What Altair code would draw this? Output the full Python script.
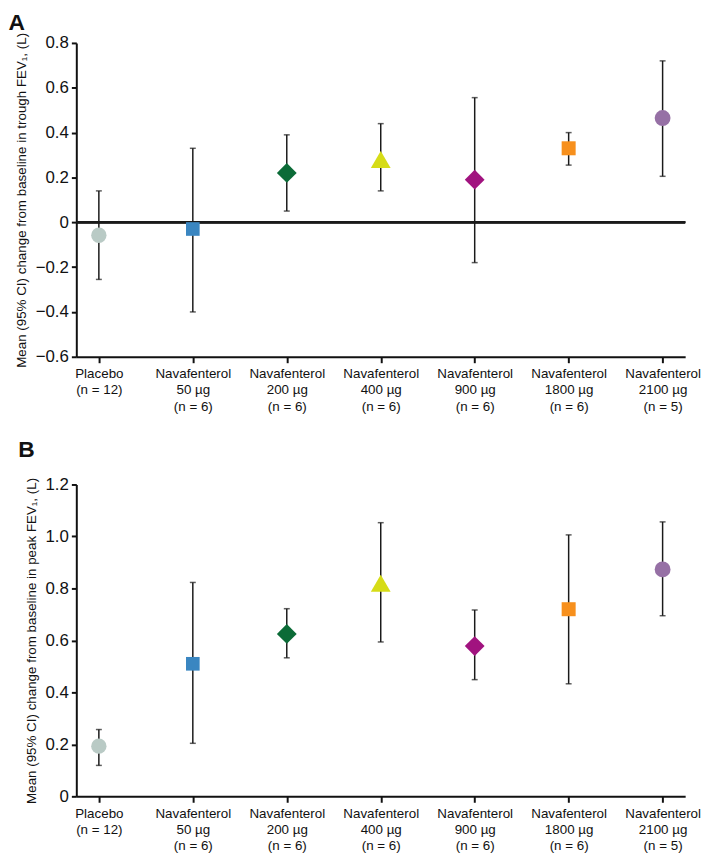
import altair as alt
import pandas as pd

groups = [
    "Placebo|(n = 12)",
    "Navafenterol|50 µg|(n = 6)",
    "Navafenterol|200 µg|(n = 6)",
    "Navafenterol|400 µg|(n = 6)",
    "Navafenterol|900 µg|(n = 6)",
    "Navafenterol|1800 µg|(n = 6)",
    "Navafenterol|2100 µg|(n = 5)",
]

trough_mean = [-0.058, -0.03, 0.22, 0.28, 0.19, 0.33, 0.465]
trough_lo = [-0.255, -0.40, 0.05, 0.14, -0.18, 0.255, 0.205]
trough_hi = [0.14, 0.33, 0.39, 0.44, 0.556, 0.40, 0.72]

peak_mean = [0.193, 0.51, 0.625, 0.82, 0.578, 0.72, 0.873]
peak_lo = [0.119, 0.204, 0.533, 0.594, 0.449, 0.433, 0.695]
peak_hi = [0.257, 0.823, 0.722, 1.053, 0.717, 1.006, 1.056]

shapes = ["circle", "square", "diamond", "triangle-up", "diamond", "square", "circle"]
sizes = [240, 190, 400, 400, 400, 200, 256]
colors_a = ["#b9cac5", "#3a86c1", "#0b6b37", "#d6dc17", "#a1137f", "#f7901d", "#9670a5"]
colors_b = ["#b9cac5", "#3a86c1", "#0b6b37", "#d6dc17", "#8c0c5c", "#f7901d", "#9670a5"]

FONT = "Liberation Sans"
W = 615


def panel(mean, lo, hi, colors, ydom, yvals, ytitle, letter, height, zero_line, toff):
    df = pd.DataFrame({"group": groups, "mean": mean, "lo": lo, "hi": hi})
    xenc = alt.X(
        "group:N",
        sort=groups,
        scale=alt.Scale(type="point", padding=0.24),
        axis=alt.Axis(
            title=None,
            labelAngle=0,
            labelExpr="split(datum.label, '|')",
            labelFontSize=13.5,
            labelLineHeight=16.5,
            labelPadding=4,
            labelColor="#111",
            labelFont=FONT,
            domainColor="#111",
            domainWidth=2,
            tickColor="#111",
            tickWidth=2,
            tickSize=6,
            labelBaseline="top",
        ),
    )
    yscale = alt.Scale(domain=ydom, nice=False, zero=False)
    yaxis = alt.Axis(
        title=ytitle,
        values=yvals,
        labelExpr="datum.value == 0 ? '0' : replace(format(datum.value, '.1f'), '-', '\u2013')",
        labelFontSize=17,
        labelFont=FONT,
        labelColor="#111",
        labelPadding=3,
        titleFontSize=13.5,
        titleFont=FONT,
        titleFontWeight="normal",
        titleColor="#111",
        titlePadding=7,
        domainColor="#111",
        domainWidth=2,
        tickColor="#111",
        tickWidth=2,
        tickSize=5,
        grid=False,
    )
    base = alt.Chart(df)
    rules = base.mark_rule(color="#1a1a1a", strokeWidth=1.5).encode(
        x=xenc, y=alt.Y("lo:Q", scale=yscale, axis=yaxis), y2="hi:Q"
    )
    cap_lo = base.mark_tick(color="#1a1a1a", size=6, thickness=1.5).encode(
        x=alt.X("group:N", sort=groups), y="lo:Q"
    )
    cap_hi = base.mark_tick(color="#1a1a1a", size=6, thickness=1.5).encode(
        x=alt.X("group:N", sort=groups), y="hi:Q"
    )
    pts = base.mark_point(filled=True, opacity=1, strokeWidth=0).encode(
        x=alt.X("group:N", sort=groups),
        y="mean:Q",
        shape=alt.Shape("group:N", scale=alt.Scale(domain=groups, range=shapes), legend=None),
        color=alt.Color("group:N", scale=alt.Scale(domain=groups, range=colors), legend=None),
        size=alt.Size(
            "group:N",
            scale=alt.Scale(type="ordinal", domain=groups, range=sizes),
            legend=None,
        ),
    )
    layers = [rules]
    if zero_line:
        layers.append(
            alt.Chart(df).mark_rule(color="#1a1a1a", strokeWidth=2).encode(y=alt.datum(0))
        )
    layers += [cap_lo, cap_hi, pts]
    return alt.layer(*layers).properties(
        width=W,
        height=height,
        title=alt.TitleParams(
            letter, anchor="start", fontSize=23, fontWeight="bold", font=FONT,
            color="#111", offset=toff, dx=-6,
        ),
    )


chart_a = panel(
    trough_mean, trough_lo, trough_hi, colors_a, [-0.6, 0.8],
    [-0.6, -0.4, -0.2, 0, 0.2, 0.4, 0.6, 0.8],
    "Mean (95% CI) change from baseline in trough FEV\u2081, (L)", "A", 317, True, -3,
)
chart_b = panel(
    peak_mean, peak_lo, peak_hi, colors_b, [0, 1.2],
    [0, 0.2, 0.4, 0.6, 0.8, 1.0, 1.2],
    "Mean (95% CI) change from baseline in peak FEV\u2081, (L)", "B", 315, False, 14,
)

chart = (
    alt.vconcat(chart_a, chart_b, spacing=26)
    .properties(padding=0, background="white")
    .configure_view(stroke=None)
)

chart.save("out.html", embed_options={"renderer": "svg", "actions": False})
